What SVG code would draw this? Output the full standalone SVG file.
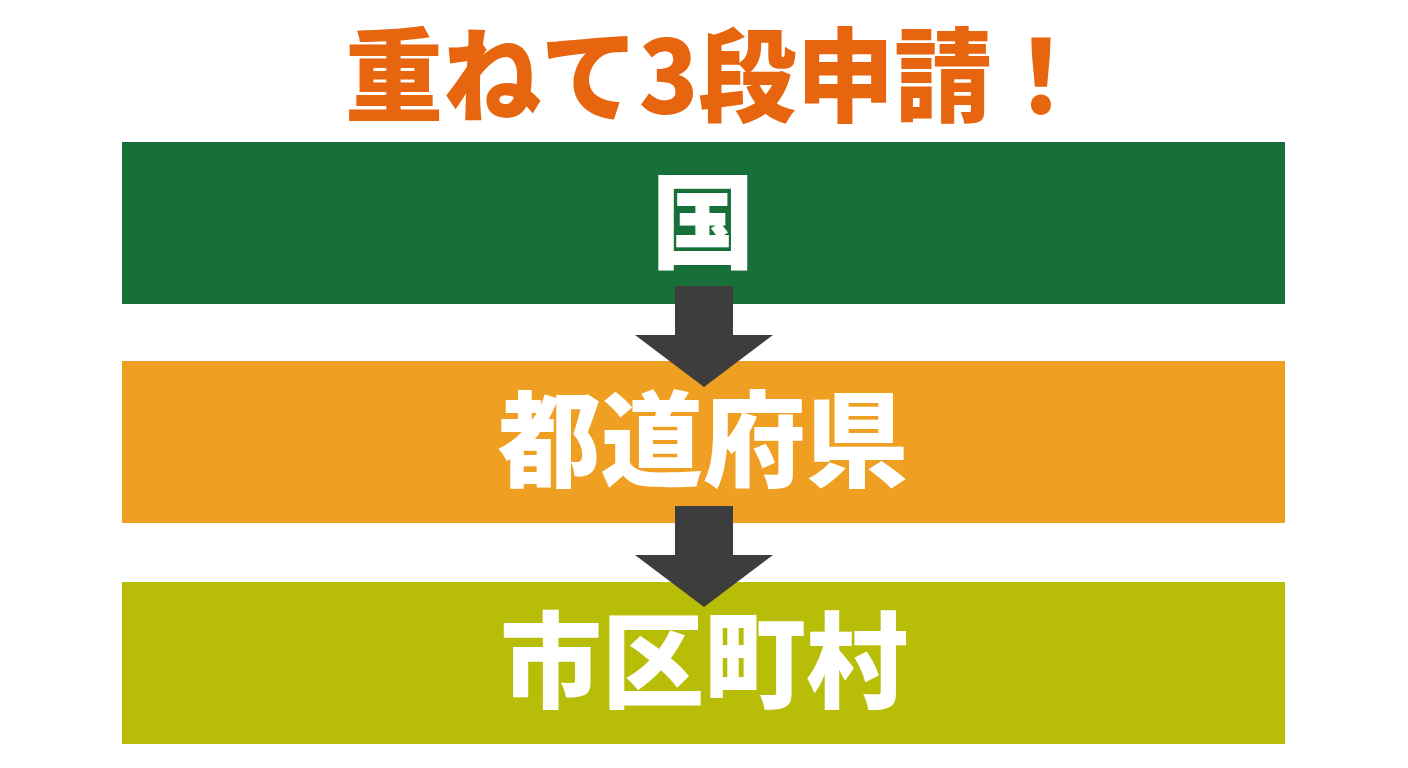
<svg xmlns="http://www.w3.org/2000/svg" width="1408" height="768" viewBox="0 0 1408 768">
<style>
.t{font-family:"Noto Sans CJK JP","Noto Sans CJK SC",sans-serif;font-weight:900;text-anchor:middle}
.lbl{fill:#ffffff;font-size:104px}
.arr{fill:#3d3d3d}
</style>
<rect width="1408" height="768" fill="#ffffff"/>
<text class="t" x="345" y="114" font-size="102" fill="#e8650f" style="text-anchor:start" textLength="745" lengthAdjust="spacingAndGlyphs">重ねて3段申請！</text>
<g id="node-kuni">
<rect x="122" y="142" width="1163" height="162" fill="#176f3a"/>
<text class="t lbl" x="703" y="261">国</text>
</g>
<g id="node-todofuken">
<rect x="122" y="361" width="1163" height="162" fill="#efa023"/>
<text class="t lbl" x="703" y="479" textLength="410" lengthAdjust="spacingAndGlyphs">都道府県</text>
</g>
<g id="node-shikuchoson">
<rect x="122" y="582" width="1163" height="162" fill="#b8be08"/>
<text class="t lbl" x="704" y="700" textLength="408" lengthAdjust="spacingAndGlyphs">市区町村</text>
</g>
<g id="connectors">
<polygon class="arr" points="675,286 733,286 733,335 773,335 704,387 635,335 675,335"/>
<polygon class="arr" points="675,506 733,506 733,555 773,555 704,607 635,555 675,555"/>
</g>
</svg>
